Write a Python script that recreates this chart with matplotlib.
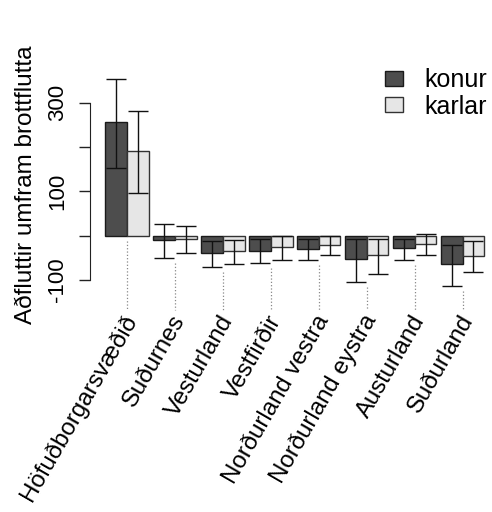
import numpy as np
import matplotlib
matplotlib.use('Agg')
import matplotlib.pyplot as plt
from matplotlib.patches import Patch

plt.rcParams['font.family'] = ['Liberation Sans', 'DejaVu Sans']

# %% data

regions = ['Höfuðborgarsvæðið', 'Suðurnes', 'Vesturland', 'Vestfirðir',
           'Norðurland vestra', 'Norðurland eystra', 'Austurland', 'Suðurland']

konur = [256, -10, -40, -34, -31, -53, -28, -64]
konur_lo = [152, -50, -71, -62, -56, -104, -56, -113]
konur_hi = [354, 26, -12, -7, -7, -8, -7, -21]

karlar = [191, -7, -35, -25, -20, -44, -19, -46]
karlar_lo = [96, -38, -64, -55, -43, -86, -44, -83]
karlar_hi = [281, 23, -10, -1, 0, -8, 4, -12]

yticks = [-100, 0, 100, 200, 300]
yticklabels = ['-100', '', '100', '', '300']

# %% plot

W, H = 492, 512
fig = plt.figure(figsize=(W / 100, H / 100), dpi=100)
ax = fig.add_axes([90 / W, 1 - 290 / H, 402 / W, 230 / H])

n = len(regions)
centers = 1.2 + 2.2 * np.arange(n)
xk = centers - 0.5
xm = centers + 0.5

col_k = '#4d4d4d'
col_m = '#e6e6e6'

ax.bar(xk, konur, width=1, color=col_k, edgecolor='#1a1a1a', linewidth=1)
ax.bar(xm, karlar, width=1, color=col_m, edgecolor='#333333', linewidth=1)

for x, v, lo, hi in zip(xk, konur, konur_lo, konur_hi):
    ax.errorbar(x, v, yerr=[[v - lo], [hi - v]], fmt='none', ecolor='#111111',
                elinewidth=1, capsize=7, capthick=1)
for x, v, lo, hi in zip(xm, karlar, karlar_lo, karlar_hi):
    ax.errorbar(x, v, yerr=[[v - lo], [hi - v]], fmt='none', ecolor='#111111',
                elinewidth=1, capsize=7, capthick=1)

# dotted leader lines down to the labels
for i, c in enumerate(centers):
    start = min(0, konur_lo[i], karlar_lo[i]) - 11
    ax.plot([c, c], [start, -168], linestyle=':', color='#888888',
            linewidth=0.9, clip_on=False)
    ax.text(c + 0.25, -183, regions[i], rotation=60, rotation_mode='anchor',
            ha='right', va='center', fontsize=17.3)

ax.set_xlim(-0.488, 17.95)
ax.set_ylim(-122.6, 396.6)

for s in ['top', 'right', 'bottom']:
    ax.spines[s].set_visible(False)
ax.spines['left'].set_bounds(-100, 300)
ax.spines['left'].set_color('#222222')
ax.set_xticks([])
ax.set_yticks(yticks)
ax.set_yticklabels(yticklabels, rotation=90, va='center', fontsize=16)
ax.tick_params(axis='y', length=8, width=1, color='#222222', pad=8)
ax.set_ylabel('Aðfluttir umfram brottflutta', fontsize=17.5, labelpad=6)
ax.yaxis.set_label_coords(-53 / 402, (290 - 185) / 230)

handles = [Patch(facecolor=col_k, edgecolor='#1a1a1a'),
           Patch(facecolor=col_m, edgecolor='#333333')]
fig.legend(handles, ['konur', 'karlar'], loc='upper left',
           bbox_to_anchor=(385 / W, 1 - 68 / H), frameon=False, fontsize=18,
           handlelength=0.72, handleheight=0.56, handletextpad=0.85,
           labelspacing=0.1, borderpad=0, borderaxespad=0)

fig.savefig('out.png', dpi=100)
